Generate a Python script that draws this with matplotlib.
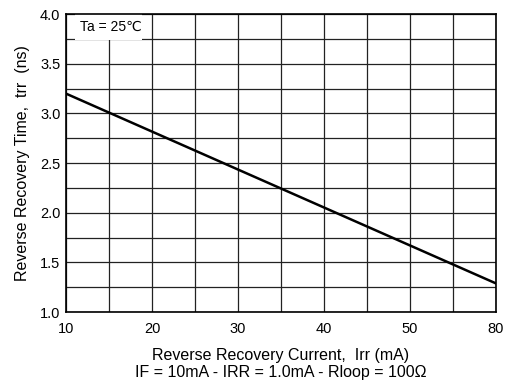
import matplotlib
matplotlib.use("Agg")
import matplotlib.pyplot as plt
from matplotlib.patches import Rectangle

FONT = ["Liberation Sans", "DejaVu Sans", "Noto Sans CJK SC"]
plt.rcParams["font.family"] = FONT

# Axis positions (the datasheet labels the last gridline "80")
x_ticks = [10, 20, 30, 40, 50, 60]
x_tick_labels = ["10", "20", "30", "40", "50", "80"]
y_ticks = [1.0, 1.5, 2.0, 2.5, 3.0, 3.5, 4.0]

# curve: trr vs Irr (axis positions)
curve_x = [10, 60]
curve_y = [3.20, 1.29]

fig = plt.figure(figsize=(5.08, 3.83), dpi=100)
ax = fig.add_axes([0.130, 0.185, 0.846, 0.778])

ax.set_xlim(10, 60)
ax.set_ylim(1.0, 4.0)
ax.set_xticks(x_ticks)
ax.set_xticklabels(x_tick_labels)
ax.set_xticks([15, 25, 35, 45, 55], minor=True)
ax.set_yticks(y_ticks)
ax.set_yticklabels([f"{v:.1f}" for v in y_ticks])
ax.set_yticks([1.25, 1.75, 2.25, 2.75, 3.25, 3.75], minor=True)
ax.tick_params(which="both", length=0, labelsize=10.5, pad=4)
ax.tick_params(axis="x", pad=7)
ax.grid(which="both", color="#222222", lw=0.9)
ax.set_axisbelow(True)
for s in ax.spines.values():
    s.set_linewidth(1.2)
    s.set_color("black")

ax.plot(curve_x, curve_y, color="black", lw=1.8, zorder=3)

# white label box covering the grid in the top-left cell
ax.add_patch(Rectangle((11.05, 3.735), 7.8, 0.265, transform=ax.transData,
                       fc="white", ec="none", zorder=2.5))
ax.text(11.6, 3.875, "Ta = 25℃", fontsize=10, ha="left", va="center",
        family=FONT, zorder=4)

ax.set_xlabel("Reverse Recovery Current,  Irr (mA)\nIF = 10mA - IRR = 1.0mA - Rloop = 100Ω",
              fontsize=11.5, labelpad=9, linespacing=1.1)
ax.set_ylabel("Reverse Recovery Time,  trr  (ns)", fontsize=11.5, labelpad=7)

fig.savefig("out.png", dpi=100)
